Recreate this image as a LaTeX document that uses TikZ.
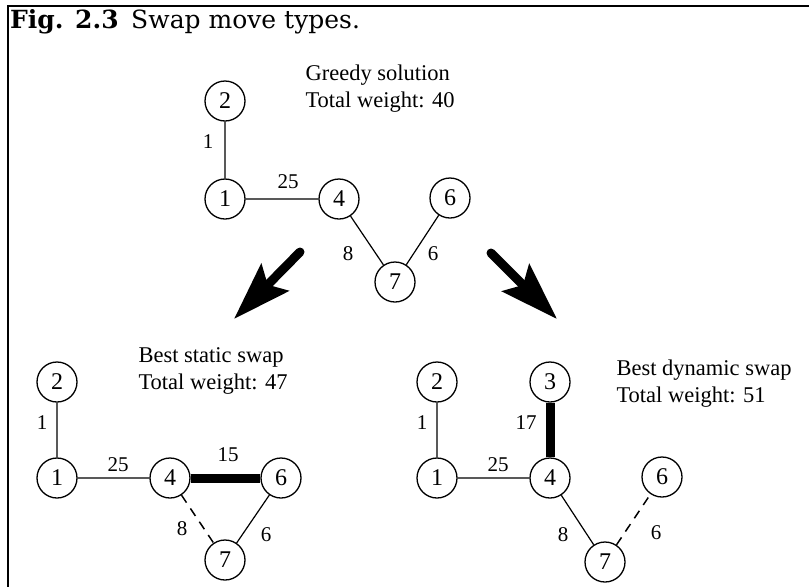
\documentclass[tikz,border=0pt]{standalone}
\usepackage{fontspec}
\setmainfont{Liberation Serif}
\newfontfamily\capfont{DejaVu Serif}
\usetikzlibrary{arrows.meta}

\begin{document}
\begin{tikzpicture}[x=1pt,y=-1pt,
	vertex/.style={draw,circle,line width=1.3pt,minimum size=40pt,inner sep=0pt,font=\fontsize{24}{24}\selectfont},
	wt/.style={font=\fontsize{21}{21}\selectfont},
	info/.style={anchor=base west,align=left,font=\fontsize{22.5}{27}\selectfont},
	edge/.style={line width=1.2pt},
	swapedge/.style={line width=9pt},
	dropedge/.style={line width=1.5pt,dash pattern=on 9pt off 7pt},
	bigarrow/.style={line width=9pt,line cap=round,-{Stealth[length=58pt,width=38pt,inset=10pt]}}]
	\useasboundingbox (0,0) rectangle (809,587);
	\draw[line width=2.5pt] (809,6) -- (8,6) -- (8,587);
	\node[anchor=base west,inner sep=0pt,font=\capfont\fontsize{25}{25}\selectfont] (title) at (10,28) {\textbf{Fig. 2.3}\enspace Swap move types.};
	% greedy
	\node[vertex] (g2) at (225,101) {2};
	\node[vertex] (g1) at (225,199) {1};
	\node[vertex] (g4) at (339,199) {4};
	\node[vertex] (g6) at (450,198) {6};
	\node[vertex] (g7) at (395,282) {7};
	\draw[edge] (g2) -- (g1) (g1) -- (g4) (g4) -- (g7) (g7) -- (g6);
	\node[wt] (w21) at (208,142) {1};
	\node[wt] (w14) at (288,182) {25};
	\node[wt] (w47) at (348,254) {8};
	\node[wt] (w76) at (433,254) {6};
	\node[info] (gtxt) at (302,107) {Greedy solution\\Total weight: 40};
	\coordinate (la0) at (300,252);
	\coordinate (la1) at (234,319);
	\coordinate (ra0) at (491,253);
	\coordinate (ra1) at (557,319);
	\draw[bigarrow] (la0) -- (la1);
	\draw[bigarrow] (ra0) -- (ra1);
	% static
	\node[vertex] (s2) at (57,382) {2};
	\node[vertex] (s1) at (57,478) {1};
	\node[vertex] (s4) at (170,478) {4};
	\node[vertex] (s6) at (281,478) {6};
	\node[vertex] (s7) at (225,560) {7};
	\draw[edge] (s2) -- (s1) (s1) -- (s4) (s7) -- (s6);
	\draw[swapedge] (s4) -- (s6);
	\draw[dropedge] (s4) -- (s7);
	\node[wt] (x21) at (42,423) {1};
	\node[wt] (x14) at (118,465) {25};
	\node[wt] (x46) at (228,455) {15};
	\node[wt] (x47) at (182,529) {8};
	\node[wt] (x76) at (266,535) {6};
	\node[info] (stxt) at (135,389) {Best static swap\\Total weight: 47};
	% dynamic
	\node[vertex] (d2) at (437,382) {2};
	\node[vertex] (d3) at (550,382) {3};
	\node[vertex] (d1) at (437,478) {1};
	\node[vertex] (d4) at (550,478) {4};
	\node[vertex] (d6) at (662,477) {6};
	\node[vertex] (d7) at (605,562) {7};
	\draw[edge] (d2) -- (d1) (d1) -- (d4) (d4) -- (d7);
	\draw[swapedge] (d3) -- (d4);
	\draw[dropedge] (d7) -- (d6);
	\node[wt] (y21) at (422,423) {1};
	\node[wt] (y34) at (526,423) {17};
	\node[wt] (y14) at (498,465) {25};
	\node[wt] (y47) at (563,535) {8};
	\node[wt] (y76) at (656,533) {6};
	\node[info] (dtxt) at (613,402) {Best dynamic swap\\Total weight: 51};
\end{tikzpicture}
\end{document}
